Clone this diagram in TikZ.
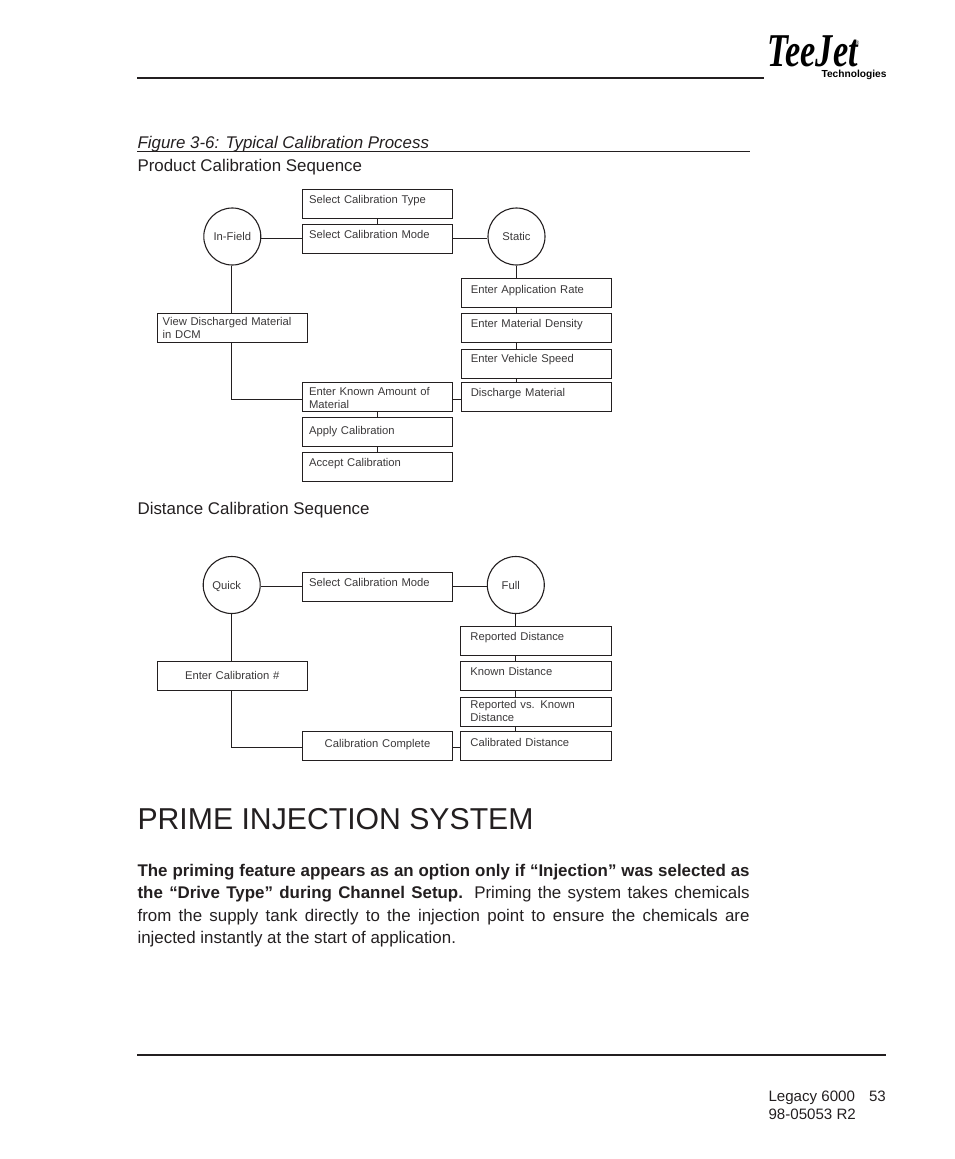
\documentclass[tikz,border=0pt]{standalone}
\usepackage{fontspec}
\setmainfont{Liberation Sans}
\newfontfamily\logofont{Liberation Serif}
\usepackage{tikz}
\definecolor{ink}{HTML}{231F20}
\definecolor{boxtext}{HTML}{3A3839}
\begin{document}
\begin{tikzpicture}[x=1pt,y=-1pt,semithick,line width=1.1pt,draw=ink,text=ink]
\tikzstyle{calbox}=[draw=ink,rectangle,anchor=center,inner ysep=0pt,inner xsep=6.5pt,text width=137pt,align=left,text=boxtext,font=\fontsize{11.25}{13}\selectfont,text height=14pt,text depth=15pt]
\tikzstyle{rightbox}=[calbox,inner xsep=9.5pt,text width=131.4pt]
\tikzstyle{viewbox}=[calbox,inner xsep=5.4pt,text width=139.2pt]
\tikzstyle{fullbox}=[rightbox,text width=131.2pt,inner xsep=10pt]
\tikzstyle{midbox}=[calbox,align=center]
\tikzstyle{choice}=[draw=ink,circle,minimum size=57pt,inner sep=0pt,text=boxtext,text height=8pt,text depth=0pt,font=\fontsize{11.25}{13}\selectfont]
\tikzstyle{pagetext}=[inner sep=0pt,anchor=base west,text=ink,font=\fontsize{16.9}{22.4}\selectfont]
\useasboundingbox (0,0) rectangle (954,1159);
\node[calbox] (type) at (377.5,203.8) {Select Calibration Type};
\node[calbox,text height=14.5pt,text depth=14.5pt][below of=type,node distance=35pt] (mode) {Select Calibration Mode};
\node[choice] (infield) at (232.3,236.5) {In-Field};
\node[choice] (static) at (516.5,236.5) {Static};
\node[rightbox,text height=15pt,text depth=14pt] (app) at (536.5,292.8) {Enter Application Rate};
\node[rightbox][below of=app,node distance=35pt] (density) {Enter Material Density};
\node[rightbox,text height=13pt,text depth=16pt][below of=density,node distance=36pt] (speed) {Enter Vehicle Speed};
\node[rightbox][below of=speed,node distance=33pt] (discharge) {Discharge Material};
\node[viewbox,text height=12pt,text depth=17pt] (view) at (232.3,327.8) {View Discharged Material\\in DCM};
\node[calbox,text height=12.7pt,text depth=16.3pt] (known) at (377.5,396.8) {Enter Known Amount of\\Material};
\node[calbox,text height=16.7pt,text depth=12.3pt][below of=known,node distance=35pt] (apply) {Apply Calibration};
\node[calbox][below of=apply,node distance=35pt] (accept) {Accept Calibration};
\coordinate (knownin) at ([yshift=-2.5pt]known.west);
\coordinate (knownout) at ([yshift=-2.5pt]known.east);
\coordinate (fielddown) at ([xshift=-1pt]infield.south);
\path[draw=ink] (infield.east |- mode.west) -- (mode.west)
  (mode.east) -- (static.west |- mode.east)
  (type) -- (mode)
  (fielddown) -- (fielddown |- view.north)
  (fielddown |- view.south) |- (knownin)
  (knownout) -- (discharge.west |- knownout)
  (known) -- (apply)
  (apply) -- (accept)
  (static.south) -- (static.south |- app.north);
\foreach \a/\b in {app/density,density/speed,speed/discharge}
  \draw (static.south |- \a.south) -- (static.south |- \b.north);
\node[calbox,text height=14.5pt,text depth=14.5pt] (modeb) at (377.5,586.8) {Select Calibration Mode};
\node[choice] (quick) at (231.7,585) {\hspace*{-10pt}Quick};
\node[choice] (full) at (515.8,585) {\hspace*{-10pt}Full};
\node[fullbox,text height=14.5pt,text depth=14.5pt] (reported) at (536,640.8) {Reported Distance};
\node[fullbox,text height=14pt,text depth=15pt][below of=reported,node distance=35pt] (knownd) {Known Distance};
\node[fullbox,text height=11pt,text depth=18pt][below of=knownd,node distance=36pt] (versus) {Reported vs. Known\\Distance};
\node[fullbox,text height=15.5pt,text depth=13.5pt][below of=versus,node distance=34pt] (calibrated) {Calibrated Distance};
\node[midbox,text height=18pt,text depth=11pt] (enter) at (232.3,675.8) {Enter Calibration \#};
\node[midbox,text height=16pt,text depth=13pt] (complete) at (377.5,745.8) {Calibration Complete};
\coordinate (completein) at ([yshift=-1.5pt]complete.west);
\coordinate (completeout) at ([yshift=-1.5pt]complete.east);
\path[draw=ink] (quick.east |- modeb.west) -- (modeb.west)
  (modeb.east) -- (full.west |- modeb.east)
  (quick.south) -- (quick.south |- enter.north)
  (quick.south |- enter.south) |- (completein)
  (completeout) -- (calibrated.west |- completeout)
  (full.south) -- (full.south |- reported.north);
\foreach \a/\b in {reported/knownd,knownd/versus,versus/calibrated}
  \draw (full.south |- \a.south) -- (full.south |- \b.north);
\coordinate (topleft) at (137,78);
\coordinate (topright) at (764,78);
\coordinate (capleft) at (137,151);
\coordinate (capright) at (750,151);
\coordinate (footleft) at (137,1055);
\coordinate (footright) at (886,1055);
\draw[line width=2pt] (topleft) -- (topright);
\draw[line width=.8pt] (capleft) -- (capright);
\draw[line width=2pt] (footleft) -- (footright);
\node[pagetext] (caption) at (137,148) {\itshape Figure 3-6: Typical Calibration Process};
\node[pagetext] (product) at (137,171) {Product Calibration Sequence};
\node[pagetext] (distance) at (137,514) {Distance Calibration Sequence};
\node[pagetext,font=\fontsize{30.2}{36}\selectfont] (heading) at (137,829.5) {PRIME INJECTION SYSTEM};
\node[pagetext,anchor=north west,text width=612pt,align=justify] (para) at (137,863.5) {\textbf{The priming feature appears as an option only if “Injection” was selected as}\linebreak \textbf{the “Drive Type” during Channel Setup.} Priming the system takes chemicals\linebreak from the supply tank directly to the injection point to ensure the chemicals are\linebreak injected instantly at the start of application.};
\node[pagetext,font=\fontsize{15.1}{19}\selectfont] (legacy) at (768,1101) {Legacy 6000\hspace{14pt}53};
\node[pagetext,font=\fontsize{15.1}{19}\selectfont] (partno) at (768,1119.5) {98-05053 R2};
\node[inner sep=0pt,anchor=base west,text=black,font=\logofont\bfseries\itshape\fontsize{47}{47}\selectfont] (logo) at (767,66) {\scalebox{.73}[1]{TeeJet}};
\node[inner sep=0pt,anchor=base west,text=black,font=\bfseries\fontsize{10.2}{12}\selectfont] (tech) at (821,77) {Technologies};
\node[inner sep=0pt,anchor=base west,text=black,font=\fontsize{5}{6}\selectfont] (reg) at (855,44) {®};
\end{tikzpicture}
\end{document}
